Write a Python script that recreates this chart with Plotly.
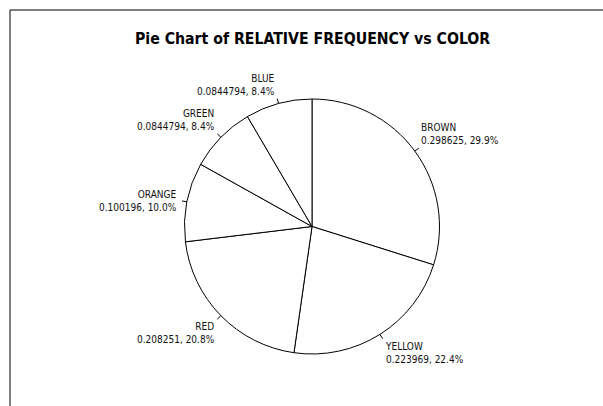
import math
import plotly.graph_objects as go

# ---- data ----
colors_cat = ["BROWN", "YELLOW", "RED", "ORANGE", "GREEN", "BLUE"]
rel_freq = [0.298625, 0.223969, 0.208251, 0.100196, 0.0844794, 0.0844794]
title_text = "Pie Chart of RELATIVE FREQUENCY vs COLOR"

W, H = 603, 406
CX, CY, R = 312.0, 226.5, 127.5  # pie placement in pixels
FONT = "DejaVu Sans Condensed, Liberation Sans, sans-serif"

fig = go.Figure(go.Pie(
    labels=colors_cat,
    values=rel_freq,
    sort=False,
    direction="clockwise",
    rotation=0,
    textinfo="none",
    hoverinfo="skip",
    marker=dict(colors=["white"] * len(rel_freq), line=dict(color="black", width=1)),
    domain=dict(x=[(CX - R) / W, (CX + R) / W], y=[1 - (CY + R) / H, 1 - (CY - R) / H]),
    showlegend=False,
))

def px2paper(x, y):
    return x / W, 1 - y / H

total = sum(rel_freq)
cum = 0.0
annotations = []
shapes = []
for lab, v in zip(colors_cat, rel_freq):
    mid = (cum + v / 2) / total * 2 * math.pi
    cum += v
    s, c = math.sin(mid), math.cos(mid)
    x0, y0 = CX + R * s, CY - R * c
    x1, y1 = CX + (R + 5) * s, CY - (R + 5) * c
    p0 = px2paper(x0, y0)
    p1 = px2paper(x1, y1)
    shapes.append(dict(type="line", xref="paper", yref="paper",
                       x0=p0[0], y0=p0[1], x1=p1[0], y1=p1[1],
                       line=dict(color="black", width=1)))
    right = s > 0
    if c > 0.3:
        ya = "bottom"
    elif c < -0.3:
        ya = "top"
    else:
        ya = "middle"
    xs = 0
    if ya == "middle":
        xs = 3 if right else -3
    pct = 100 * v / total
    annotations.append(dict(
        x=p1[0], y=p1[1], xref="paper", yref="paper",
        text=f"{lab}<br>{v:g}, {pct:.1f}%",
        showarrow=False,
        xanchor="left" if right else "right",
        yanchor=ya, xshift=xs,
        align="left" if right else "right",
        font=dict(family=FONT, size=10, color="#111111"),
    ))

# outer frame (top and left edges visible)
shapes.append(dict(type="rect", xref="paper", yref="paper",
                   x0=10 / W, y0=-0.2, x1=1.2, y1=1 - 10 / H,
                   line=dict(color="black", width=1), fillcolor="rgba(0,0,0,0)"))

annotations.append(dict(
    x=312 / W, y=1 - 38 / H, xref="paper", yref="paper",
    text=f"<b>{title_text}</b>", showarrow=False,
    xanchor="center", yanchor="middle",
    font=dict(family=FONT, size=15.7, color="black"),
))

fig.update_layout(
    width=W, height=H,
    margin=dict(l=0, r=0, t=0, b=0),
    paper_bgcolor="white", plot_bgcolor="white",
    annotations=annotations, shapes=shapes,
)

fig.write_html(
    "out.html",
    config={"displayModeBar": False},
    post_script="document.body.style.margin='0';document.body.style.overflow='hidden';",
)
